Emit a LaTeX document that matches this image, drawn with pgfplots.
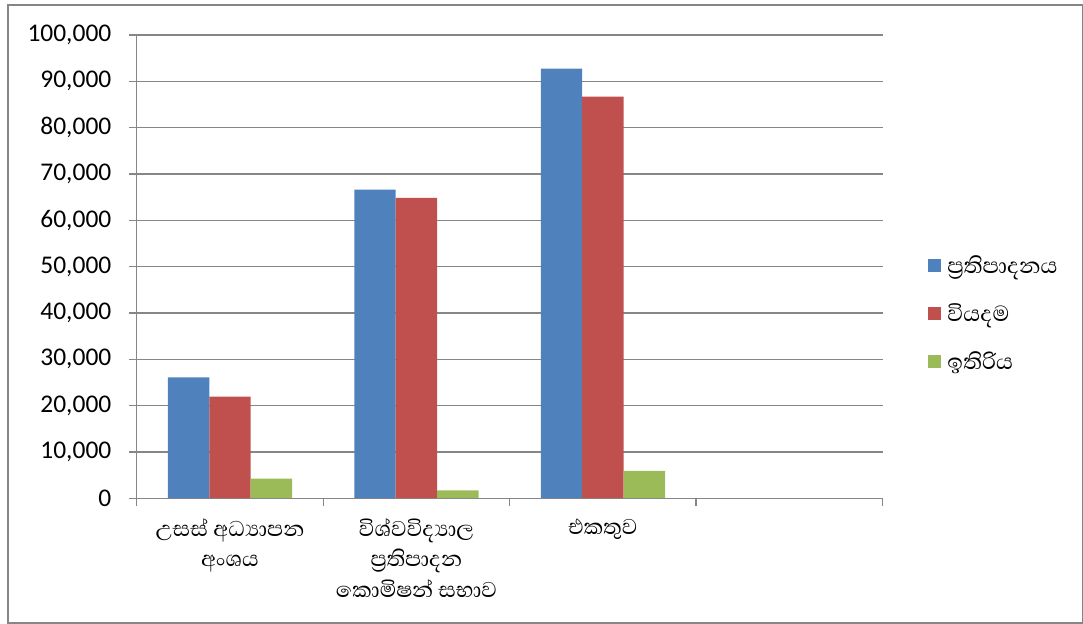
\documentclass[border=0pt]{standalone}
\usepackage{pgfplots}
\pgfplotsset{compat=1.18}
\usepackage{fontspec}
\setmainfont{Carlito}
\newfontfamily\sinhala[Script=Sinhala]{Abhaya Libre}
\definecolor{cblue}{RGB}{79,129,189}
\definecolor{cred}{RGB}{192,80,77}
\definecolor{cgreen}{RGB}{155,187,89}
\definecolor{cgrid}{RGB}{134,134,134}
\begin{document}
\begin{tikzpicture}[x=1bp,y=1bp]
\begin{axis}[
  at={(0,0)}, anchor=south west,
  scale only axis, width=747bp, height=464bp,
  xmin=-0.5, xmax=3.5, ymin=0, ymax=100000,
  axis x line*=bottom, axis y line*=left,
  axis line style={cgrid, line width=1.3bp},
  tick align=outside,
  major tick length=8bp,
  tick style={cgrid, line width=1.3bp},
  ymajorgrids, grid style={cgrid, line width=1.3bp},
  ytick={0,10000,...,100000},
  scaled y ticks=false,
  /pgf/number format/assume math mode=true,
  yticklabel style={font=\fontsize{25.5bp}{29bp}\selectfont, xshift=-14bp, /pgf/number format/fixed, /pgf/number format/1000 sep={,}},
  xtick={-0.5,0.5,1.5,2.5,3.5}, xticklabels={},
  extra x ticks={0,1,2},
  extra x tick labels={{\sinhala උසස් අධ්‍යාපන\\\sinhala අංශය},{\sinhala විශ්වවිද්‍යාල\\\sinhala ප්‍රතිපාදන\\\sinhala කොමිෂන් සභාව},{\sinhala එකතුව}},
  extra x tick style={major tick length=0pt, tick style={draw=none}, grid=none,
     xticklabel style={align=center, font=\fontsize{27.5bp}{30.5bp}\selectfont, yshift=-17bp}},
  legend style={draw=none, at={(rel axis cs:1.056,0.399)}, anchor=west,
     font=\fontsize{28bp}{30bp}\selectfont, row sep=25bp, fill=none,
     /tikz/every odd column/.append style={column sep=5bp}},
  legend cell align=left,
  legend image code/.code={\fill[#1] (0bp,-6.5bp) rectangle (13bp,6.5bp);},
]
\addplot[ybar, bar width=0.2222, bar shift=-0.2222, fill=cblue, draw=none]
  coordinates {(0,26100) (1,66600) (2,92700)};
\addlegendentry{\sinhala ප්‍රතිපාදනය}
\addplot[ybar, bar width=0.2222, bar shift=0, fill=cred, draw=none]
  coordinates {(0,21900) (1,64800) (2,86700)};
\addlegendentry{\sinhala වියදම}
\addplot[ybar, bar width=0.2222, bar shift=0.2222, fill=cgreen, draw=none]
  coordinates {(0,4200) (1,1700) (2,5900)};
\addlegendentry{\sinhala ඉතිරිය}
\end{axis}
\pgfresetboundingbox
\draw[cgrid, line width=1.5bp] (-129,-125) rectangle (947,494);
\useasboundingbox (-137,-126) rectangle (946,499);
\end{tikzpicture}
\end{document}
